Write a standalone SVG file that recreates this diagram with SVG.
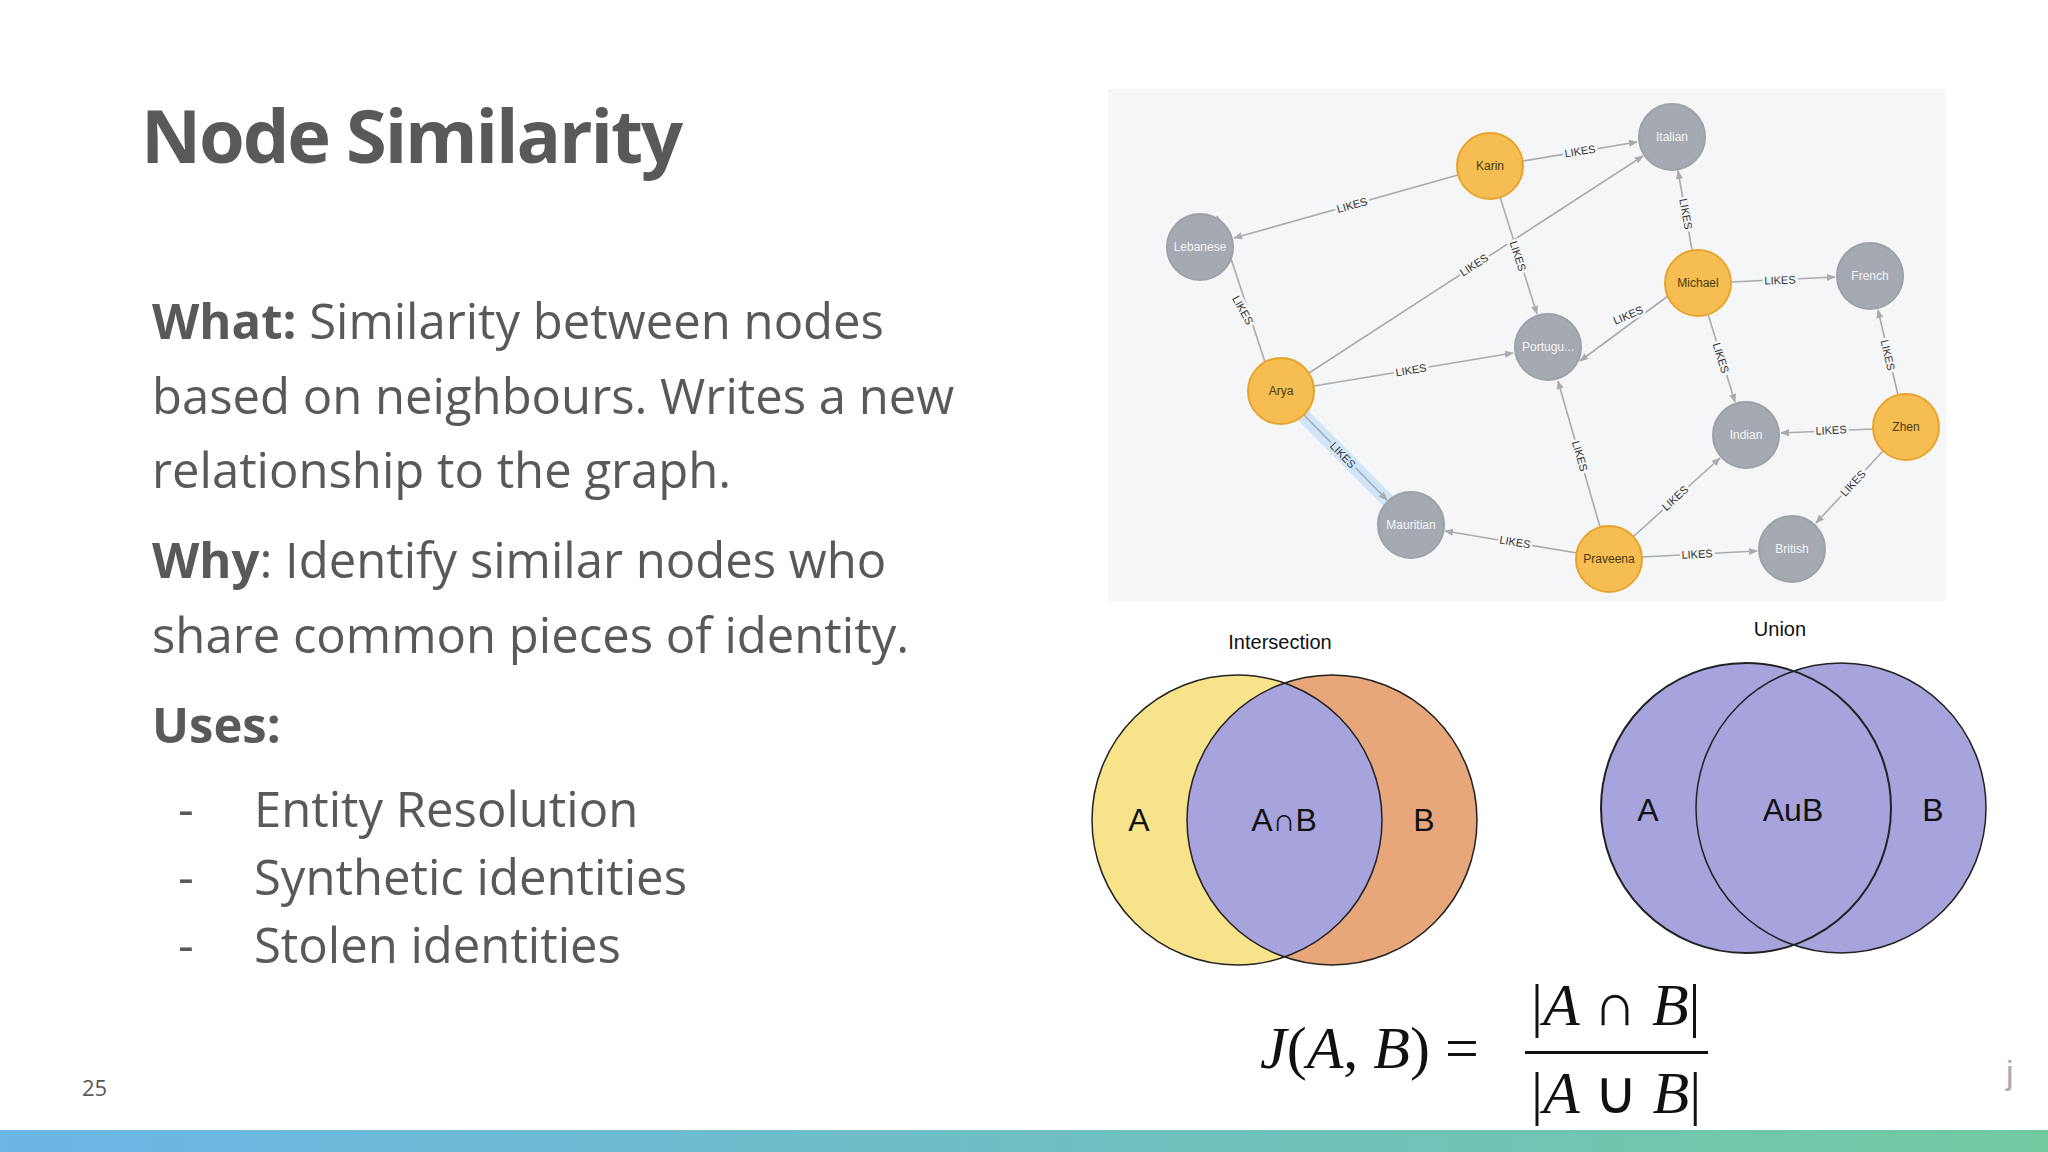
<svg xmlns="http://www.w3.org/2000/svg" width="2048" height="1152" viewBox="0 0 2048 1152">
<defs>
<linearGradient id="bar" x1="0" x2="1"><stop offset="0" stop-color="#6cb6e8"/><stop offset="1" stop-color="#72c9a0"/></linearGradient>
<marker id="ar" viewBox="0 0 10 10" refX="9" refY="5" markerWidth="9" markerHeight="9" markerUnits="userSpaceOnUse" orient="auto"><path d="M0,1 L10,5 L0,9 z" fill="#a9abb0"/></marker>
<clipPath id="ca"><circle cx="1237" cy="820" r="145"/></clipPath>
</defs>
<style>
.t{font-family:"Open Sans","Liberation Sans",sans-serif;fill:#595959}
.e line{stroke:#a9abb0;stroke-width:1.6;marker-end:url(#ar)}
.lk{font-family:"Liberation Sans",Arial,sans-serif;font-size:11px;fill:#333;text-anchor:middle;dominant-baseline:central;paint-order:stroke;stroke:#f5f6f8;stroke-width:5}
.p circle{fill:#f6bd52;stroke:#e7a42c;stroke-width:2}
.c circle{fill:#a5a9b2;stroke:#9ca0a8;stroke-width:2}
.nl{font-family:"Liberation Sans",Arial,sans-serif;font-size:12px;text-anchor:middle;dominant-baseline:central}
.p text{fill:#4a3a10}.c text{fill:#f4f5f7}
.v{font-family:"Liberation Sans",Arial,sans-serif;text-anchor:middle;dominant-baseline:central;fill:#111}
.m{font-family:"Liberation Serif","Times New Roman",serif;font-style:italic;fill:#111}
</style>
<rect width="2048" height="1152" fill="#fff"/>
<text class="t" x="141" y="163" font-size="74" font-weight="bold" textLength="542">Node Similarity</text>
<g class="t" font-size="49">
<text x="152" y="339"><tspan font-weight="bold">What:</tspan> Similarity between nodes</text>
<text x="152" y="414">based on neighbours. Writes a new</text>
<text x="152" y="488">relationship to the graph.</text>
<text x="152" y="578"><tspan font-weight="bold">Why</tspan>: Identify similar nodes who</text>
<text x="152" y="653">share common pieces of identity.</text>
<text x="152" y="743" font-weight="bold">Uses:</text>
<text x="178" y="827">-</text><text x="254" y="827">Entity Resolution</text>
<text x="178" y="895">-</text><text x="254" y="895">Synthetic identities</text>
<text x="178" y="963">-</text><text x="254" y="963">Stolen identities</text>
</g>
<text class="t" x="82" y="1096" font-size="22" fill="#777">25</text>
<text x="2006" y="1084" font-family="Liberation Sans,sans-serif" font-size="34" fill="#aaa">j</text>
<rect x="0" y="1130" width="2048" height="22" fill="url(#bar)"/>

<rect x="1108" y="89" width="838" height="512" fill="#f5f6f8"/>
<line x1="1300" y1="412" x2="1392" y2="505" stroke="#cfe6f8" stroke-width="14" stroke-linecap="round"/>
<g id="connectors" class="e">
<line x1="1523" y1="161" x2="1637" y2="142"/>
<line x1="1458" y1="175" x2="1234" y2="238"/>
<line x1="1500" y1="197" x2="1537" y2="314"/>
<line x1="1265" y1="362" x2="1217" y2="216"/>
<line x1="1309" y1="373" x2="1643" y2="156"/>
<line x1="1314" y1="386" x2="1513" y2="353"/>
<line x1="1304" y1="415" x2="1387" y2="500"/>
<line x1="1692" y1="250" x2="1678" y2="171"/>
<line x1="1731" y1="282" x2="1835" y2="277"/>
<line x1="1668" y1="296" x2="1580" y2="361"/>
<line x1="1708" y1="314" x2="1735" y2="402"/>
<line x1="1898" y1="395" x2="1878" y2="310"/>
<line x1="1873" y1="429" x2="1781" y2="433"/>
<line x1="1883" y1="451" x2="1816" y2="523"/>
<line x1="1577" y1="553" x2="1445" y2="531"/>
<line x1="1600" y1="527" x2="1558" y2="381"/>
<line x1="1633" y1="537" x2="1720" y2="458"/>
<line x1="1642" y1="557" x2="1757" y2="551"/>
<text class="lk" transform="translate(1580,151) rotate(-9)">LIKES</text>
<text class="lk" transform="translate(1352,205) rotate(-15.6)">LIKES</text>
<text class="lk" transform="translate(1518,256) rotate(72)">LIKES</text>
<text class="lk" transform="translate(1243,310) rotate(60.6)">LIKES</text>
<text class="lk" transform="translate(1474,265) rotate(-33)">LIKES</text>
<text class="lk" transform="translate(1411,370) rotate(-9.4)">LIKES</text>
<text class="lk" transform="translate(1343,455) rotate(45.9)" style="stroke:#cfe6f8">LIKES</text>
<text class="lk" transform="translate(1686,214) rotate(79.9)">LIKES</text>
<text class="lk" transform="translate(1780,280) rotate(-2.3)">LIKES</text>
<text class="lk" transform="translate(1628,315) rotate(-23)">LIKES</text>
<text class="lk" transform="translate(1721,358) rotate(72.5)">LIKES</text>
<text class="lk" transform="translate(1888,355) rotate(76.6)">LIKES</text>
<text class="lk" transform="translate(1831,430) rotate(-2.9)">LIKES</text>
<text class="lk" transform="translate(1853,483) rotate(-47)">LIKES</text>
<text class="lk" transform="translate(1515,542) rotate(9.7)">LIKES</text>
<text class="lk" transform="translate(1580,456) rotate(73.9)">LIKES</text>
<text class="lk" transform="translate(1675,498) rotate(-42.2)">LIKES</text>
<text class="lk" transform="translate(1697,554) rotate(-3.1)">LIKES</text>
</g>
<g id="karin" class="p"><circle cx="1490" cy="166" r="33"/><text class="nl" x="1490" y="166">Karin</text></g>
<g id="arya" class="p"><circle cx="1281" cy="391" r="33"/><text class="nl" x="1281" y="391">Arya</text></g>
<g id="michael" class="p"><circle cx="1698" cy="283" r="33"/><text class="nl" x="1698" y="283">Michael</text></g>
<g id="zhen" class="p"><circle cx="1906" cy="427" r="33"/><text class="nl" x="1906" y="427">Zhen</text></g>
<g id="praveena" class="p"><circle cx="1609" cy="559" r="33"/><text class="nl" x="1609" y="559">Praveena</text></g>
<g id="italian" class="c"><circle cx="1672" cy="137" r="33"/><text class="nl" x="1672" y="137">Italian</text></g>
<g id="lebanese" class="c"><circle cx="1200" cy="247" r="33"/><text class="nl" x="1200" y="247">Lebanese</text></g>
<g id="french" class="c"><circle cx="1870" cy="276" r="33"/><text class="nl" x="1870" y="276">French</text></g>
<g id="portuguese" class="c"><circle cx="1548" cy="347" r="33"/><text class="nl" x="1548" y="347">Portugu...</text></g>
<g id="indian" class="c"><circle cx="1746" cy="435" r="33"/><text class="nl" x="1746" y="435">Indian</text></g>
<g id="mauritian" class="c"><circle cx="1411" cy="525" r="33"/><text class="nl" x="1411" y="525">Mauritian</text></g>
<g id="british" class="c"><circle cx="1792" cy="549" r="33"/><text class="nl" x="1792" y="549">British</text></g>

<g id="intersection">
<text class="v" x="1280" y="642" font-size="20">Intersection</text>
<circle cx="1237" cy="820" r="145" fill="#f7e48a"/>
<circle cx="1332" cy="820" r="145" fill="#e8a77b"/>
<circle cx="1332" cy="820" r="145" fill="#a7a3dd" clip-path="url(#ca)"/>
<circle cx="1237" cy="820" r="145" fill="none" stroke="#222" stroke-width="1.5"/>
<circle cx="1332" cy="820" r="145" fill="none" stroke="#222" stroke-width="1.5"/>
<text class="v" x="1139" y="820" font-size="32">A</text>
<text class="v" x="1284" y="820" font-size="32">A∩B</text>
<text class="v" x="1424" y="820" font-size="32">B</text>
</g>
<g id="union">
<text class="v" x="1780" y="629" font-size="20">Union</text>
<circle cx="1746" cy="808" r="145" fill="#a7a3dd"/>
<circle cx="1841" cy="808" r="145" fill="#a7a3dd"/>
<circle cx="1746" cy="808" r="145" fill="none" stroke="#222" stroke-width="2"/>
<circle cx="1841" cy="808" r="145" fill="none" stroke="#222" stroke-width="1.5"/>
<text class="v" x="1648" y="810" font-size="32">A</text>
<text class="v" x="1793" y="810" font-size="32">AuB</text>
<text class="v" x="1933" y="810" font-size="32">B</text>
</g>
<g id="formula">
<text class="m" x="1260" y="1068" font-size="60">J<tspan font-style="normal">(</tspan>A<tspan font-style="normal">, </tspan>B<tspan font-style="normal">) =</tspan></text>
<text class="m" x="1531" y="1025" font-size="60"><tspan font-style="normal">|</tspan>A <tspan font-style="normal">∩</tspan> B<tspan font-style="normal">|</tspan></text>
<rect x="1525" y="1051" width="183" height="3" fill="#111"/>
<text class="m" x="1531" y="1113" font-size="60"><tspan font-style="normal">|</tspan>A <tspan font-style="normal">∪</tspan> B<tspan font-style="normal">|</tspan></text>
</g>
</svg>
